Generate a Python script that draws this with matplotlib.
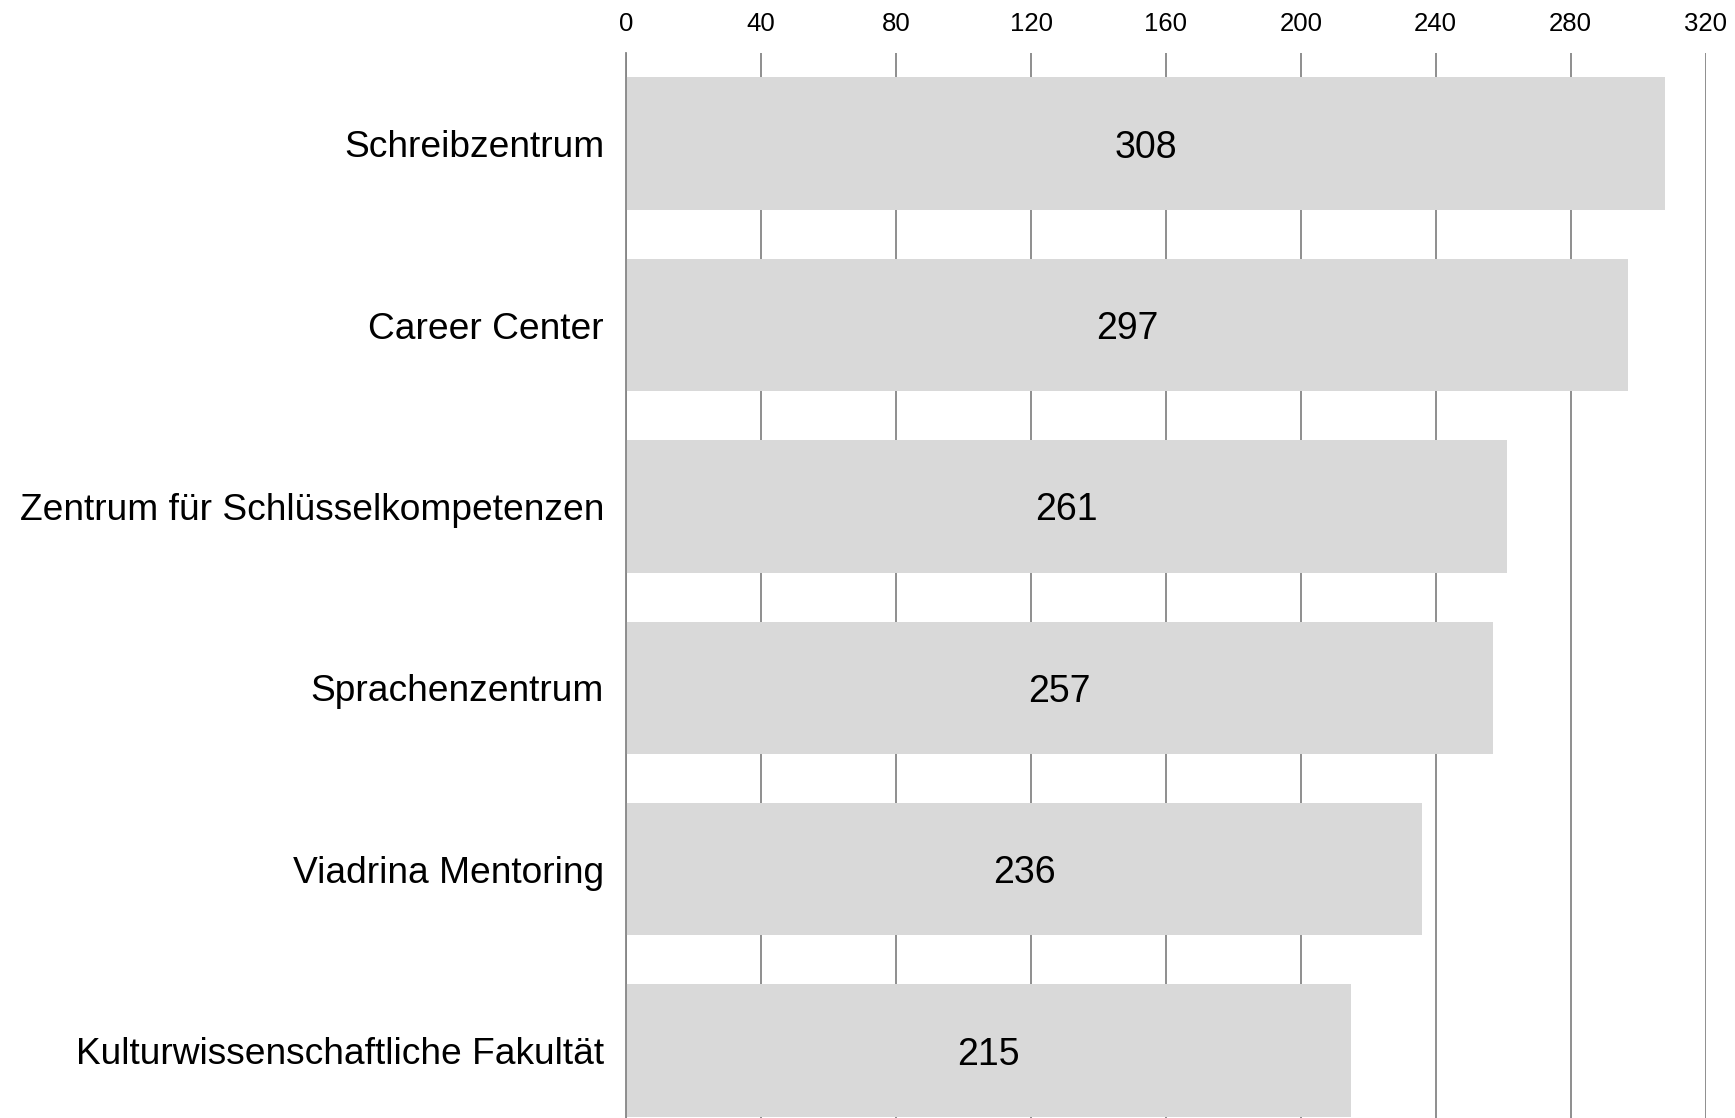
import matplotlib
matplotlib.use('Agg')
import matplotlib.pyplot as plt

# Einrichtungen und Anzahl der Nennungen (von oben nach unten)
categories = [
    'Schreibzentrum',
    'Career Center',
    'Zentrum für Schlüsselkompetenzen',
    'Sprachenzentrum',
    'Viadrina Mentoring',
    'Kulturwissenschaftliche Fakultät',
]
values = [308, 297, 261, 257, 236, 215]
xticks = [0, 40, 80, 120, 160, 200, 240, 280, 320]

plt.rcParams['font.family'] = ['Liberation Sans', 'DejaVu Sans']

fig = plt.figure(figsize=(17.35, 11.18), dpi=100)
ax = fig.add_axes([0.361, 0.0, 0.622, 0.9526])

pos = list(range(len(categories)))
ax.barh(pos, values, height=0.73, color='#d9d9d9', zorder=2)

for p, v in zip(pos, values):
    ax.text(v / 2, p, str(v), ha='center', va='center_baseline', fontsize=27, zorder=3)

ax.set_xlim(0, 320)
ax.set_ylim(5.372, -0.5)
ax.set_xticks(xticks)
ax.set_yticks(pos)
ax.set_yticklabels(categories, fontsize=26.7)
ax.xaxis.tick_top()
ax.tick_params(axis='x', length=0, labelsize=18.5, pad=12)
ax.tick_params(axis='y', length=0, pad=16)

ax.grid(axis='x', color='#868686', linewidth=1.3, zorder=1)
for s in ['top', 'right', 'bottom']:
    ax.spines[s].set_visible(False)
ax.spines['left'].set_color('#868686')
ax.spines['left'].set_linewidth(1.3)
ax.spines['left'].set_zorder(3)

fig.savefig('out.png', dpi=100)
